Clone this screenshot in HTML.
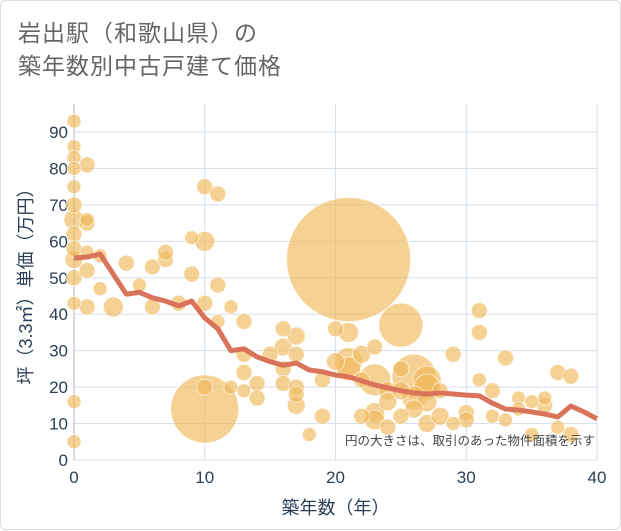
<!DOCTYPE html>
<html><head><meta charset="utf-8"><style>
body{margin:0;background:#fff;font-family:"Liberation Sans","Noto Sans CJK JP",sans-serif;}
#wrap{position:absolute;left:0;top:0;width:619px;height:528px;border:1px solid #ddd;border-radius:6px;}
.title{position:absolute;left:17px;top:16px;font-size:23px;line-height:33px;color:#666;letter-spacing:1px;}
</style></head><body>
<div id="wrap">
<div class="title">岩出駅（和歌山県）の<br>築年数別中古戸建て価格</div>
<svg id="c" width="621" height="530" style="position:absolute;left:0;top:0"></svg>
</div>
<script>
const xTicks=[0,10,20,30,40];
const yTicks=[0,10,20,30,40,50,60,70,80,90];
const lineYears=[0,1,2,3,4,5,6,7,8,9,10,11,12,13,14,15,16,17,18,19,20,21,22,23,24,25,26,27,28,29,30,31,32,33,34,35,36,37,38,39,40];
const lineValues=[55.4,55.7,56.5,51,45.5,46,44.5,43.6,42.3,43.6,39,36,30,30.5,28.3,27,26,26.6,24.7,24.2,23.3,22.8,21.7,20.6,19.8,19,18.4,18.1,18.4,18.1,17.8,17.6,15.6,14,13.7,13.2,12.6,11.8,14.8,13.2,11.3];
const bubX=[0,0,0,0,0,0,0,0,0,0,0,0,0,0,1,1,1,1,1,1,2,2,3,4,5,6,6,7,7,8,9,9,10,10,10,10,10,11,11,11,12,12,13,13,13,13,14,14,15,16,16,16,16,17,17,17,17,17,18,19,19,20,20,21,21,21,21,22,22,22,23,23,23,23,24,24,24,25,25,25,25,26,26,26,27,27,27,27,28,28,29,29,30,30,31,31,31,32,32,33,33,34,34,35,35,36,36,37,37,38,38];
const bubY=[93,86,83,80,75,70,66,62,58,50,43,16,5,55,81,66,65,57,52,42,56,47,42,54,48,42,53,55,57,43,61,51,75,60,43,20,14,73,48,38,42,20,38,29,24,19,21,17,29,36,31,25,21,34,20,18,15,29,7,22,12,36,27,55,35,27,25,29,22,12,31,22,13,11,19,16,9,37,25,19,12,23,17,14,22,20,16,10,19,12,29,10,13,11,41,35,22,19,12,28,11,17,14,16,7,17,15,9,24,7,23];
const bubR=[7,7,7,7,7,8,10,8,8,8,7,7,7,9,8,7,8,7,8,8,7,7,10,8,7,8,8,8,8,8,7,8,8,10,8,8,34,8,8,7,7,7,8,8,8,7,8,8,8,8,9,8,8,9,8,8,9,8,7,8,8,8,9,62,10,14,12,9,8,8,8,16,10,10,9,9,8,22,8,9,8,22,12,9,14,13,10,9,8,9,8,7,8,8,8,8,7,8,7,8,7,7,7,7,7,7,8,7,8,8,8];
const NS="http://www.w3.org/2000/svg";
const svg=document.getElementById('c');
const L=73,R=596,T=103,B=459;
const X=v=>L+(v-0)/40*(R-L);
const Y=v=>B-v/90*(B-131);
function mk(tag,attrs,parent){const e=document.createElementNS(NS,tag);for(const k in attrs)e.setAttribute(k,attrs[k]);(parent||svg).appendChild(e);return e;}
const plot=mk('rect',{x:L,y:T,width:R-L,height:B-T,fill:'#fff',stroke:'none'});


for(const t of yTicks){
  const g=mk('line',{x1:L,x2:R,y1:Y(t),y2:Y(t),stroke:'#d5dfea','stroke-width':1});
  
  
  const tx=mk('text',{x:L-6,y:Y(t)+6,'text-anchor':'end','font-size':17,fill:'#2b3f56'});
  tx.textContent=t;
  
  
}
for(const t of xTicks){
  const g=mk('line',{x1:X(t),x2:X(t),y1:T,y2:B,stroke:'#d5dfea','stroke-width':1});
  
  
  const tx=mk('text',{x:X(t),y:B+23,'text-anchor':'middle','font-size':17,fill:'#2b3f56'});
  tx.textContent=t;
  
  
}
const ax=mk('line',{x1:L,x2:L,y1:T,y2:B,stroke:'#aab4c0','stroke-width':1});


const order=bubR.map((r,i)=>i).sort((a,b)=>bubR[b]-bubR[a]);
for(const i of order){
  const c=mk('circle',{cx:X(bubX[i]),cy:Y(bubY[i]),r:bubR[i],fill:'rgba(240,185,90,0.65)',stroke:'rgba(255,255,255,0.6)','stroke-width':1});
  
  
}
let d='';
lineYears.forEach((yr,i)=>{d+=(i?'L':'M')+X(yr)+' '+Y(lineValues[i])+' ';});
const p=mk('path',{d:d,fill:'none',stroke:'#d9735a','stroke-width':5,'stroke-linejoin':'round'});


const note=mk('text',{x:594,y:444,'text-anchor':'end','font-size':12.5,fill:'#444'});
note.textContent='円の大きさは、取引のあった物件面積を示す';


const xt=mk('text',{x:(L+R)/2,y:513,'text-anchor':'middle','font-size':18,fill:'#2b3f56'});
xt.textContent='築年数（年）';


const yt=mk('text',{x:0,y:0,'text-anchor':'middle','font-size':18,fill:'#2b3f56',transform:'translate(31,'+((T+B)/2)+') rotate(-90)'});
yt.textContent='坪（3.3㎡）単価（万円）';


</script>
</body></html>
